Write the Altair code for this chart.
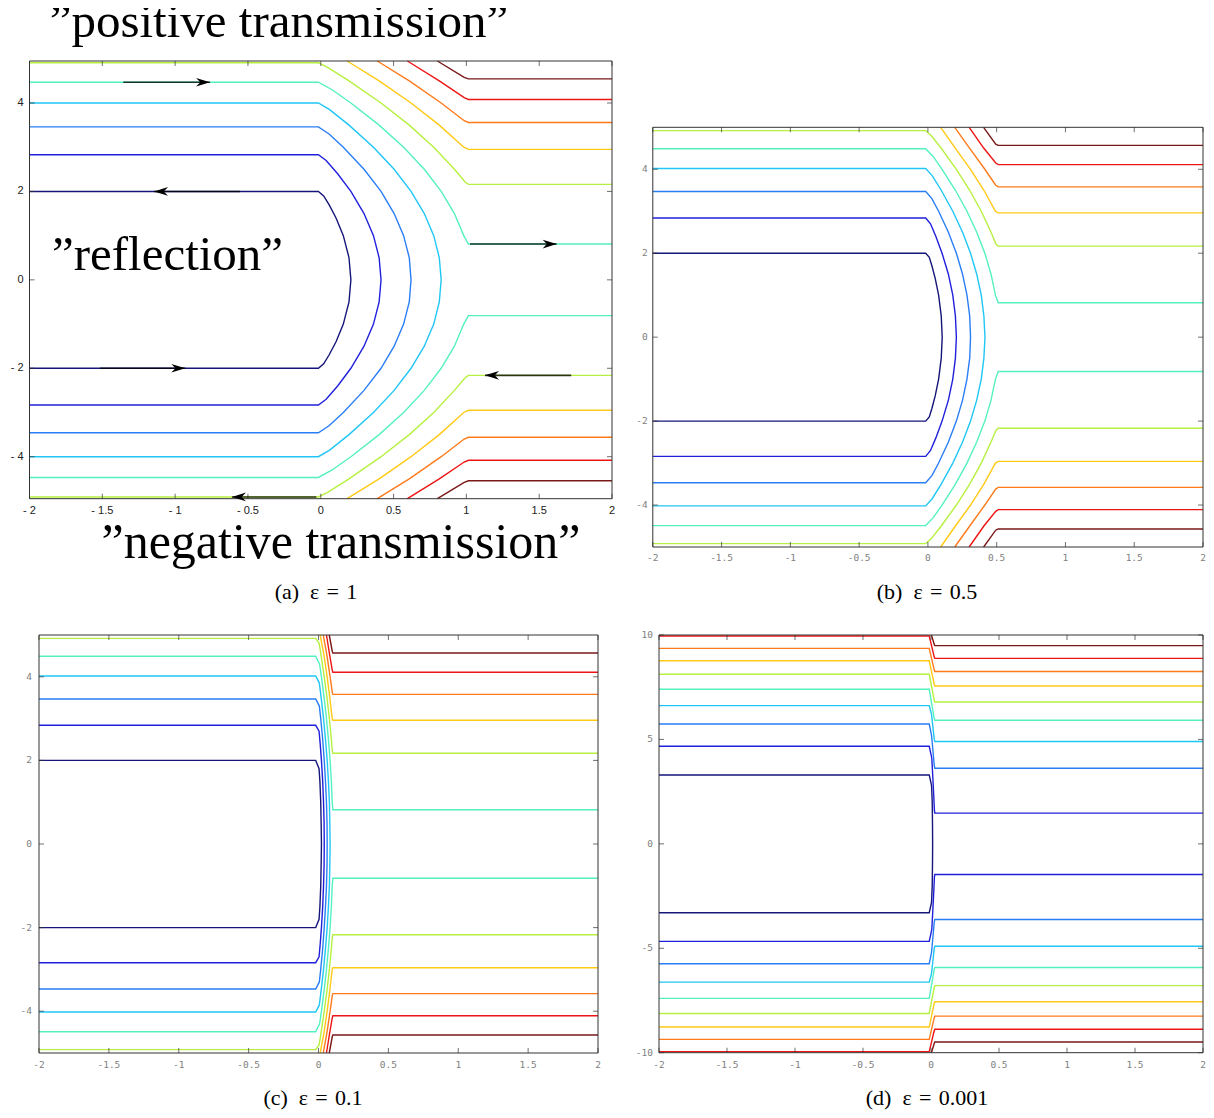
import altair as alt
import pandas as pd

# ---------------- colour levels (jet-like) ----------------
LEVELS = ["navy", "blue", "dodger", "cyan", "aqua", "yg", "gold", "orange", "red", "darkred"]
COLORS = ["#15157a", "#2020dc", "#2a7ef5", "#20c6f5", "#55f0c0", "#b6f040",
          "#ffc915", "#ff7a1a", "#ee1414", "#7a1818"]

# ---------------- panel (a): eps = 1 (upper halves) ----------------
A_NAVY = [(-2, 2.0), (-0.016, 2.0), (0.02, 1.9), (0.057, 1.7), (0.105, 1.4), (0.155, 1.0), (0.194, 0.5), (0.207, 0.0)]
A_BLUE = [(-2, 2.83), (-0.016, 2.83), (0.037, 2.7), (0.116, 2.4), (0.207, 2.0), (0.297, 1.5), (0.362, 1.0), (0.401, 0.5), (0.414, 0.0)]
A_DODGER = [(-2, 3.46), (-0.016, 3.46), (0.057, 3.3), (0.155, 3.0), (0.297, 2.5), (0.414, 2.0), (0.504, 1.5), (0.569, 1.0), (0.608, 0.5), (0.62, 0.0)]
A_CYAN = [(-2, 4.0), (-0.016, 4.0), (0.061, 3.85), (0.194, 3.5), (0.362, 3.0), (0.504, 2.5), (0.62, 2.0), (0.711, 1.5), (0.776, 1.0), (0.814, 0.5), (0.827, 0.0)]
A_AQUA = [(-2, 4.47), (-0.016, 4.47), (0.078, 4.3), (0.207, 4.0), (0.401, 3.5), (0.569, 3.0), (0.711, 2.5), (0.827, 2.0), (0.918, 1.5), (0.982, 1.0), (1.014, 0.81), (2, 0.81)]
A_YG = [(-2, 4.91), (-0.016, 4.91), (0.05, 4.8), (0.194, 4.5), (0.414, 4.0), (0.608, 3.5), (0.776, 3.0), (0.918, 2.5), (0.99, 2.22), (1.014, 2.16), (2, 2.16)]
A_GOLD = [(0.181, 4.95), (0.401, 4.5), (0.62, 4.0), (0.814, 3.5), (0.982, 3.0), (1.014, 2.95), (2, 2.95)]
A_ORANGE = [(0.388, 4.95), (0.608, 4.5), (0.827, 4.0), (0.985, 3.6), (1.014, 3.56), (2, 3.56)]
A_RED = [(0.595, 4.95), (0.814, 4.5), (0.985, 4.12), (1.014, 4.08), (2, 4.08)]
A_DRED = [(0.801, 4.95), (0.985, 4.58), (1.014, 4.545), (2, 4.545)]

# ---------------- panel (b): eps = 0.5 ----------------
B_NAVY = [(-2, 2.0), (-0.016, 2.0), (0.01, 1.9), (0.029, 1.7), (0.053, 1.4), (0.078, 1.0), (0.097, 0.5), (0.104, 0.0)]
B_BLUE = [(-2, 2.84), (-0.016, 2.84), (0.019, 2.7), (0.058, 2.4), (0.103, 2.0), (0.149, 1.5), (0.181, 1.0), (0.2, 0.5), (0.207, 0.0)]
B_DODGER = [(-2, 3.47), (-0.016, 3.47), (0.029, 3.3), (0.078, 3.0), (0.149, 2.5), (0.207, 2.0), (0.252, 1.5), (0.284, 1.0), (0.304, 0.5), (0.31, 0.0)]
B_CYAN = [(-2, 4.02), (-0.016, 4.02), (0.031, 3.85), (0.097, 3.5), (0.181, 3.0), (0.252, 2.5), (0.31, 2.0), (0.355, 1.5), (0.388, 1.0), (0.407, 0.5), (0.415, 0.0)]
B_AQUA = [(-2, 4.49), (-0.016, 4.49), (0.039, 4.3), (0.103, 4.0), (0.2, 3.5), (0.284, 3.0), (0.355, 2.5), (0.414, 2.0), (0.459, 1.5), (0.491, 1.0), (0.511, 0.82), (2, 0.82)]
B_YG = [(-2, 4.92), (-0.016, 4.92), (0.025, 4.8), (0.097, 4.5), (0.207, 4.0), (0.304, 3.5), (0.388, 3.0), (0.459, 2.5), (0.495, 2.22), (0.511, 2.17), (2, 2.17)]
B_GOLD = [(0.093, 5.0), (0.2, 4.5), (0.31, 4.0), (0.407, 3.5), (0.491, 3.0), (0.511, 2.96), (2, 2.96)]
B_ORANGE = [(0.195, 5.0), (0.304, 4.5), (0.414, 4.0), (0.493, 3.62), (0.511, 3.58), (2, 3.58)]
B_RED = [(0.3, 5.0), (0.407, 4.5), (0.493, 4.15), (0.511, 4.11), (2, 4.11)]
B_DRED = [(0.405, 5.0), (0.493, 4.6), (0.511, 4.57), (2, 4.57)]

# ---------------- panel (c): eps = 0.1 ----------------
C_NAVY = [(-2, 2.0), (-0.02, 2.0), (0.004, 1.8), (0.01, 1.5), (0.016, 1.0), (0.019, 0.5), (0.021, 0.0)]
C_BLUE = [(-2, 2.84), (-0.02, 2.84), (0.004, 2.7), (0.012, 2.4), (0.021, 2.0), (0.03, 1.5), (0.036, 1.0), (0.04, 0.5), (0.041, 0.0)]
C_DODGER = [(-2, 3.47), (-0.02, 3.47), (0.006, 3.3), (0.016, 3.0), (0.03, 2.5), (0.041, 2.0), (0.05, 1.5), (0.057, 1.0), (0.061, 0.5), (0.062, 0.0)]
C_CYAN = [(-2, 4.02), (-0.02, 4.02), (0.006, 3.85), (0.019, 3.5), (0.036, 3.0), (0.05, 2.5), (0.062, 2.0), (0.071, 1.5), (0.078, 1.0), (0.081, 0.5), (0.083, 0.0)]
C_AQUA = [(-2, 4.49), (-0.02, 4.49), (0.008, 4.3), (0.021, 4.0), (0.04, 3.5), (0.057, 3.0), (0.071, 2.5), (0.083, 2.0), (0.092, 1.5), (0.098, 1.0), (0.103, 0.82), (2, 0.82)]
C_YG = [(-2, 4.92), (-0.02, 4.92), (0.005, 4.8), (0.019, 4.5), (0.041, 4.0), (0.061, 3.5), (0.078, 3.0), (0.092, 2.5), (0.099, 2.22), (0.103, 2.17), (2, 2.17)]
C_GOLD = [(0.012, 5.0), (0.04, 4.5), (0.062, 4.0), (0.081, 3.5), (0.098, 3.0), (0.103, 2.96), (2, 2.96)]
C_ORANGE = [(0.034, 5.0), (0.061, 4.5), (0.083, 4.0), (0.099, 3.62), (0.103, 3.58), (2, 3.58)]
C_RED = [(0.057, 5.0), (0.081, 4.5), (0.099, 4.15), (0.103, 4.11), (2, 4.11)]
C_DRED = [(0.077, 5.0), (0.099, 4.6), (0.103, 4.57), (2, 4.57)]

# ---------------- panel (d): eps = 0.001 ----------------
D_NAVY = [(-2, 3.3), (-0.013, 3.3), (0.004, 2.8), (0.009, 2.0), (0.011, 1.0), (0.012, 0.0)]
D_BLUE = [(-2, 4.67), (-0.013, 4.67), (0.006, 4.1), (0.018, 2.6), (0.025, 1.6), (0.028, 1.47), (2, 1.47)]
D_DODGER = [(-2, 5.74), (-0.013, 5.74), (0.004, 5.2), (0.024, 3.75), (0.028, 3.62), (2, 3.62)]
D_CYAN = [(-2, 6.62), (-0.013, 6.62), (0.004, 6.2), (0.024, 5.0), (0.028, 4.9), (2, 4.9)]
D_AQUA = [(-2, 7.4), (-0.013, 7.4), (0.024, 6.0), (0.028, 5.92), (2, 5.92)]
D_YG = [(-2, 8.12), (-0.013, 8.12), (0.024, 6.87), (0.028, 6.79), (2, 6.79)]
D_GOLD = [(-2, 8.77), (-0.013, 8.77), (0.024, 7.63), (0.028, 7.56), (2, 7.56)]
D_ORANGE = [(-2, 9.36), (-0.013, 9.36), (0.024, 8.32), (0.028, 8.25), (2, 8.25)]
D_RED = [(-2, 9.95), (-0.013, 9.95), (0.024, 8.94), (0.028, 8.88), (2, 8.88)]
D_DRED = [(0.003, 10.0), (0.024, 9.55), (0.028, 9.49), (2, 9.49)]

# (level, upper-half path, reflected back to the left?)
PANEL_A = [("navy", A_NAVY, True), ("blue", A_BLUE, True), ("dodger", A_DODGER, True), ("cyan", A_CYAN, True),
           ("aqua", A_AQUA, False), ("yg", A_YG, False), ("gold", A_GOLD, False), ("orange", A_ORANGE, False),
           ("red", A_RED, False), ("darkred", A_DRED, False)]
PANEL_B = [("navy", B_NAVY, True), ("blue", B_BLUE, True), ("dodger", B_DODGER, True), ("cyan", B_CYAN, True),
           ("aqua", B_AQUA, False), ("yg", B_YG, False), ("gold", B_GOLD, False), ("orange", B_ORANGE, False),
           ("red", B_RED, False), ("darkred", B_DRED, False)]
PANEL_C = [("navy", C_NAVY, True), ("blue", C_BLUE, True), ("dodger", C_DODGER, True), ("cyan", C_CYAN, True),
           ("aqua", C_AQUA, False), ("yg", C_YG, False), ("gold", C_GOLD, False), ("orange", C_ORANGE, False),
           ("red", C_RED, False), ("darkred", C_DRED, False)]
PANEL_D = [("navy", D_NAVY, True), ("blue", D_BLUE, False), ("dodger", D_DODGER, False), ("cyan", D_CYAN, False),
           ("aqua", D_AQUA, False), ("yg", D_YG, False), ("gold", D_GOLD, False), ("orange", D_ORANGE, False),
           ("red", D_RED, False), ("darkred", D_DRED, False)]

# arrows in panel (a): (start x, tip x, y)
ARROW_START = [-1.356, -0.554, -1.516, -0.03, 1.025, 1.72]
ARROW_TIP = [-0.76, -1.145, -0.93, -0.61, 1.62, 1.128]
ARROW_Y = [4.47, 2.0, -2.0, -4.91, 0.81, -2.16]

# ticks and labels
X_TICKS = [-2, -1.5, -1, -0.5, 0, 0.5, 1, 1.5, 2]
Y_TICKS_5 = [-4, -2, 0, 2, 4]
Y_TICKS_10 = [-10, -5, 0, 5, 10]
A_XLABELS = ["- 2", "- 1.5", "- 1", "- 0.5", "0", "0.5", "1", "1.5", "2"]
A_YLABELS = ["- 4", "- 2", "0", "2", "4"]
XLABELS = ["-2", "-1.5", "-1", "-0.5", "0", "0.5", "1", "1.5", "2"]
YLABELS_5 = ["-4", "-2", "0", "2", "4"]
YLABELS_10 = ["-10", "-5", "0", "5", "10"]

CAPTIONS = ["(a)\u2002ε\u2004=\u20041", "(b)\u2002ε\u2004=\u20040.5",
            "(c)\u2002ε\u2004=\u20040.1", "(d)\u2002ε\u2004=\u20040.001"]
ANNOTATIONS = ["”positive transmission”", "”reflection”", "”negative transmission”"]


def build(paths):
    rows = []
    for lvl, pts, reflected in paths:
        if reflected:
            curves = [list(pts) + [(x, -y) for x, y in reversed(pts[:-1])]]
        else:
            curves = [list(pts), [(x, -y) for x, y in pts]]
        for ci, c in enumerate(curves):
            for k, (x, y) in enumerate(c):
                rows.append(dict(level=lvl, curve=f"{lvl}_{ci}", k=k, x=x, y=y))
    return pd.DataFrame(rows)


COLOR = alt.Color("level:N", scale=alt.Scale(domain=LEVELS, range=COLORS), legend=None)
FRAME_COLOR = "#333333"


def panel(paths, xrange, yrange, ydom, yticks, xlabels, ylabels, lab_font, lab_size, lab_color,
          xlab_dy, ylab_dx, caption, cap_x, cap_y, extra=None):
    X = alt.X("x:Q", scale=alt.Scale(domain=[-2, 2], range=xrange, nice=False, zero=False), axis=None)
    Y = alt.Y("y:Q", scale=alt.Scale(domain=ydom, range=yrange, nice=False, zero=False), axis=None)

    lines = alt.Chart(build(paths)).mark_line(strokeWidth=1.4).encode(
        x=X, y=Y, color=COLOR, detail="curve:N", order="k:Q")

    frame = alt.Chart(pd.DataFrame({"x": [-2], "x2": [2], "y": [ydom[0]], "y2": [ydom[1]]})).mark_rect(
        fillOpacity=0, stroke=FRAME_COLOR, strokeWidth=1).encode(x=X, x2="x2:Q", y=Y, y2="y2:Q")

    xb = pd.DataFrame({"x": X_TICKS, "y": [ydom[0]] * len(X_TICKS), "label": xlabels})
    xt = pd.DataFrame({"x": X_TICKS, "y": [ydom[1]] * len(X_TICKS)})
    yl = pd.DataFrame({"x": [-2] * len(yticks), "y": yticks, "label": ylabels})
    yr = pd.DataFrame({"x": [2] * len(yticks), "y": yticks})

    t_b = alt.Chart(xb).mark_tick(orient="vertical", size=5, thickness=1, color=FRAME_COLOR, yOffset=-2.5).encode(x=X, y=Y)
    t_t = alt.Chart(xt).mark_tick(orient="vertical", size=5, thickness=1, color=FRAME_COLOR, yOffset=2.5).encode(x=X, y=Y)
    t_l = alt.Chart(yl).mark_tick(orient="horizontal", size=5, thickness=1, color=FRAME_COLOR, xOffset=2.5).encode(x=X, y=Y)
    t_r = alt.Chart(yr).mark_tick(orient="horizontal", size=5, thickness=1, color=FRAME_COLOR, xOffset=-2.5).encode(x=X, y=Y)

    l_x = alt.Chart(xb).mark_text(font=lab_font, fontSize=lab_size, color=lab_color, baseline="middle",
                                  align="center", dy=xlab_dy).encode(x=X, y=Y, text="label:N")
    l_y = alt.Chart(yl).mark_text(font=lab_font, fontSize=lab_size, color=lab_color, baseline="middle",
                                  align="right", dx=ylab_dx).encode(x=X, y=Y, text="label:N")

    cap = alt.Chart(pd.DataFrame({"t": [caption]})).mark_text(
        font="Liberation Serif", fontSize=22, color="black", align="center", baseline="alphabetic").encode(
        text="t:N", x=alt.value(cap_x), y=alt.value(cap_y))

    layers = [lines, frame, t_b, t_t, t_l, t_r, l_x, l_y, cap]
    if extra is not None:
        layers += extra(X, Y)
    return alt.layer(*layers)


def arrows(X, Y):
    df = pd.DataFrame({"x": ARROW_START, "x2": ARROW_TIP, "y": ARROW_Y})
    df["dir"] = ["right" if t > s else "left" for s, t in zip(ARROW_START, ARROW_TIP)]
    tips = pd.DataFrame({"x": ARROW_TIP, "y": ARROW_Y, "dir": df["dir"]})
    shaft = alt.Chart(df).mark_rule(color="black", opacity=0.78, strokeWidth=1.6).encode(x=X, x2="x2:Q", y=Y)
    head_r = alt.Chart(tips[tips["dir"] == "right"]).mark_point(
        shape="M0,0L-2,-0.62L-1.4,0L-2,0.62Z", filled=True, size=196, color="black", opacity=1,
        strokeWidth=0).encode(x=X, y=Y)
    head_l = alt.Chart(tips[tips["dir"] == "left"]).mark_point(
        shape="M0,0L2,-0.62L1.4,0L2,0.62Z", filled=True, size=196, color="black", opacity=1,
        strokeWidth=0).encode(x=X, y=Y)
    return [shaft, head_r, head_l]


SMALL_FONT = "DejaVu Sans Mono"

pa = panel(PANEL_A, [21.5, 604], [490.7, 53], [-4.95, 4.95], Y_TICKS_5, A_XLABELS, A_YLABELS,
           "Liberation Sans", 11, "#222222", 12, -6, CAPTIONS[0], 308, 591, extra=arrows)
pb = panel(PANEL_B, [644.8, 1195], [539, 119.3], [-5, 5], Y_TICKS_5, XLABELS, YLABELS_5,
           SMALL_FONT, 9.5, "#808080", 11, -5, CAPTIONS[1], 919, 591)
pc = panel(PANEL_C, [31, 590], [1045, 627], [-5, 5], Y_TICKS_5, XLABELS, YLABELS_5,
           SMALL_FONT, 9.5, "#808080", 12, -7, CAPTIONS[2], 305, 1097)
pd_ = panel(PANEL_D, [651, 1195], [1044.7, 627], [-10, 10], Y_TICKS_10, XLABELS, YLABELS_10,
            SMALL_FONT, 9.5, "#808080", 12, -6, CAPTIONS[3], 919, 1097)

ann_pos = [(271, 29), (159.5, 262), (333, 550)]
ann_size = [49, 49, 50]
ann_layers = []
for txt, (ax, ay), fs in zip(ANNOTATIONS, ann_pos, ann_size):
    ann_layers.append(alt.Chart(pd.DataFrame({"t": [txt]})).mark_text(
        font="Liberation Serif", fontSize=fs, color="black", align="center", baseline="alphabetic").encode(
        text="t:N", x=alt.value(ax), y=alt.value(ay)))

chart = alt.layer(pa, pb, pc, pd_, *ann_layers).resolve_scale(
    x="independent", y="independent").properties(
    width=1198, height=1102, autosize=alt.AutoSizeParams(type="none"), padding=0
).configure_view(stroke=None)

chart.save("out.html", embed_options={"renderer": "svg", "actions": False})
